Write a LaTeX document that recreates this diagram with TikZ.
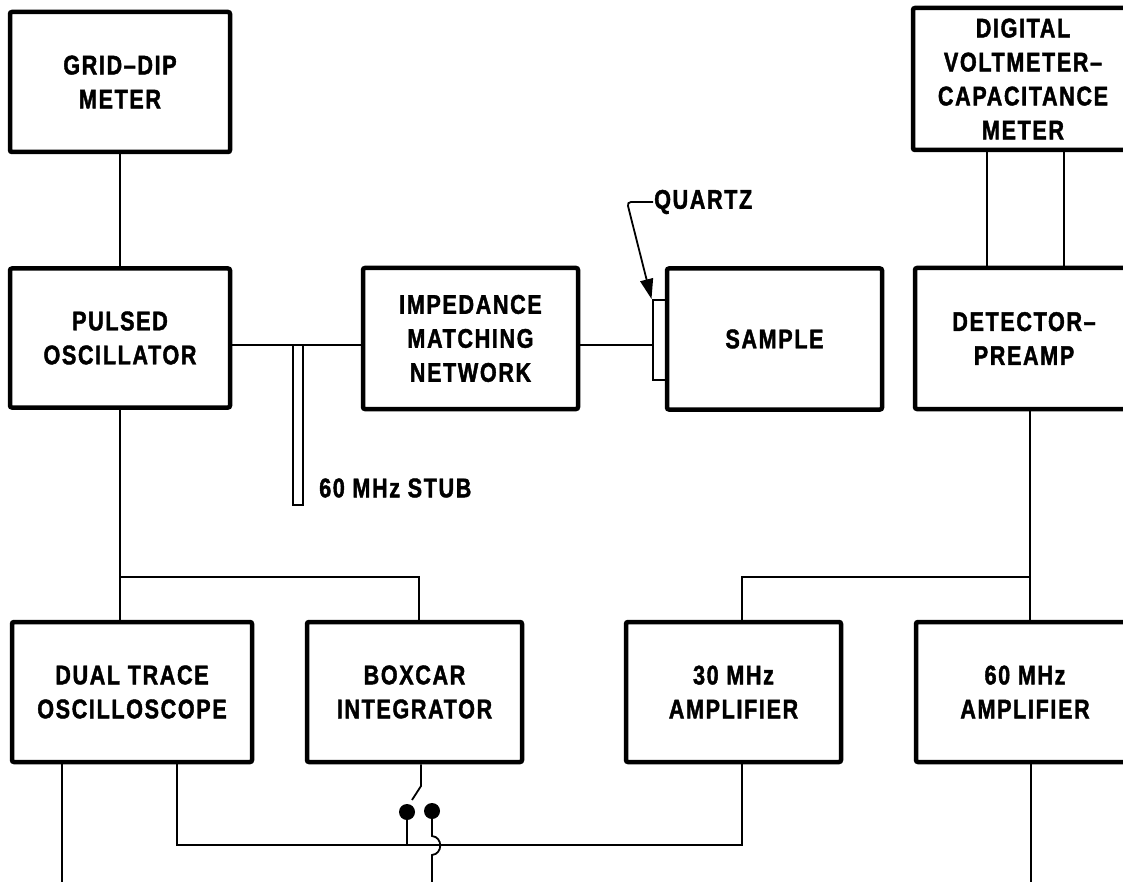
\documentclass[tikz,border=0pt]{standalone}
\usepackage{fontspec}
\newfontfamily\labfont[FakeStretch=0.8,LetterSpace=6,FakeBold=1.5]{Liberation Sans}
\usetikzlibrary{arrows.meta}
\newcommand\labtext{\labfont\bfseries\fontsize{27}{34}\selectfont}
\tikzset{
  blk/.style={draw, line width=4.5pt, rounded corners=2pt, minimum height=140pt,
    inner sep=0pt, align=center, font=\labtext},
  thinbox/.style={draw, line width=2pt, inner sep=0pt},
  wire/.style={line width=1.8pt},
  lbl/.style={inner sep=1pt, font=\labtext},
  dot/.style={circle, fill, inner sep=0pt, minimum size=16pt},
  bigtip/.style={-{Triangle[length=20pt,width=13pt]}},
}
\begin{document}
\begin{tikzpicture}[x=1pt,y=-1pt]
\clip (0,0) rectangle (1123,882);
\fill[white] (0,0) rectangle (1123,882);

% blocks
\node[blk, minimum width=220pt] (grid) at (120,82) {GRID–DIP\\METER};
\node[blk, minimum width=220pt, minimum height=139pt] (pulsed) at (120,338) {PULSED\\OSCILLATOR};
\node[blk, minimum width=215pt, minimum height=141pt] (imp) at (470.5,338.5) {IMPEDANCE\\MATCHING\\NETWORK};
\node[thinbox, minimum width=14pt, minimum height=80pt] (quartz) at (659.5,340) {};
\node[blk, minimum width=215pt, minimum height=141pt] (sample) at (774.5,339) {SAMPLE};
\node[blk, minimum width=220pt, minimum height=142pt] (dvm) at (1023,79) {DIGITAL\\VOLTMETER–\\CAPACITANCE\\METER};
\node[blk, minimum width=218pt, minimum height=141pt] (det) at (1024,338.5) {DETECTOR–\\PREAMP};
\node[blk, minimum width=240pt] (dual) at (132,692) {DUAL TRACE\\OSCILLOSCOPE};
\node[blk, minimum width=215pt] (boxcar) at (414.5,692) {BOXCAR\\INTEGRATOR};
\node[blk, minimum width=215pt] (amp30) at (733.5,692) {30 MHz\\AMPLIFIER};
\node[blk, minimum width=218pt] (amp60) at (1025,692) {60 MHz\\AMPLIFIER};

% top connections
\draw[wire] (grid.south) -- (pulsed.north);
\coordinate (rf) at (0,345);
\draw[wire] (pulsed.east |- rf) -- (imp.west |- rf);
\draw[wire] (imp.east |- rf) -- (quartz.west |- rf);
\node[thinbox, minimum width=10pt, minimum height=160pt] (stub) at (298,425) {};
\node[lbl, anchor=west] (stublbl) at (318,488) {60 MHz STUB};

% quartz label
\node[lbl, anchor=west] (qlbl) at (653,202) {QUARTZ};
\coordinate (qbend) at (627,202);
\coordinate (qbend2) at (629,210);
\draw[wire, rounded corners=4pt] (qlbl.west) -- (qbend) -- (qbend2);
\draw[wire, bigtip] (qbend2) -- (quartz.north west);

% dvm to detector
\coordinate (v1) at (987,0);
\coordinate (v2) at (1064,0);
\draw[wire] (dvm.south -| v1) -- (det.north -| v1);
\draw[wire] (dvm.south -| v2) -- (det.north -| v2);

% distribution to lower row
\coordinate (bx) at (419,577);
\draw[wire] (pulsed.south) -- (dual.north -| pulsed.south);
\draw[wire] (pulsed.south |- bx) -- (bx) -- (boxcar.north -| bx);
\coordinate (dx) at (1030,577);
\coordinate (ax) at (742,577);
\draw[wire] (det.south -| dx) -- (amp60.north -| dx);
\draw[wire] (dx) -- (ax) -- (amp30.north -| ax);

% bottom bus
\coordinate (bot) at (0,845);
\coordinate (sc) at (177,845);
\draw[wire] (amp30.south -| ax) -- (ax |- bot) -- (sc) -- (dual.south -| sc);
\coordinate (o1) at (62,882);
\draw[wire] (dual.south -| o1) -- (o1);
\coordinate (o3) at (1031,882);
\draw[wire] (amp60.south -| o3) -- (o3);

% switch
\coordinate (sw) at (421,0);
\coordinate (swk) at (421,786);
\coordinate (swt) at (412,800);
\draw[wire] (boxcar.south -| sw) -- (swk) -- (swt);
\node[dot] (d1) at (407,812) {};
\node[dot] (d2) at (432,811) {};
\draw[wire] (d1.center) -- (d1 |- bot);
\coordinate (h1) at (432,836);
\coordinate (h2) at (432,855);
\coordinate (o2) at (432,882);
\draw[wire] (d2.center) -- (h1) .. controls (443,837) and (443,854) .. (h2) -- (o2);
\end{tikzpicture}
\end{document}
